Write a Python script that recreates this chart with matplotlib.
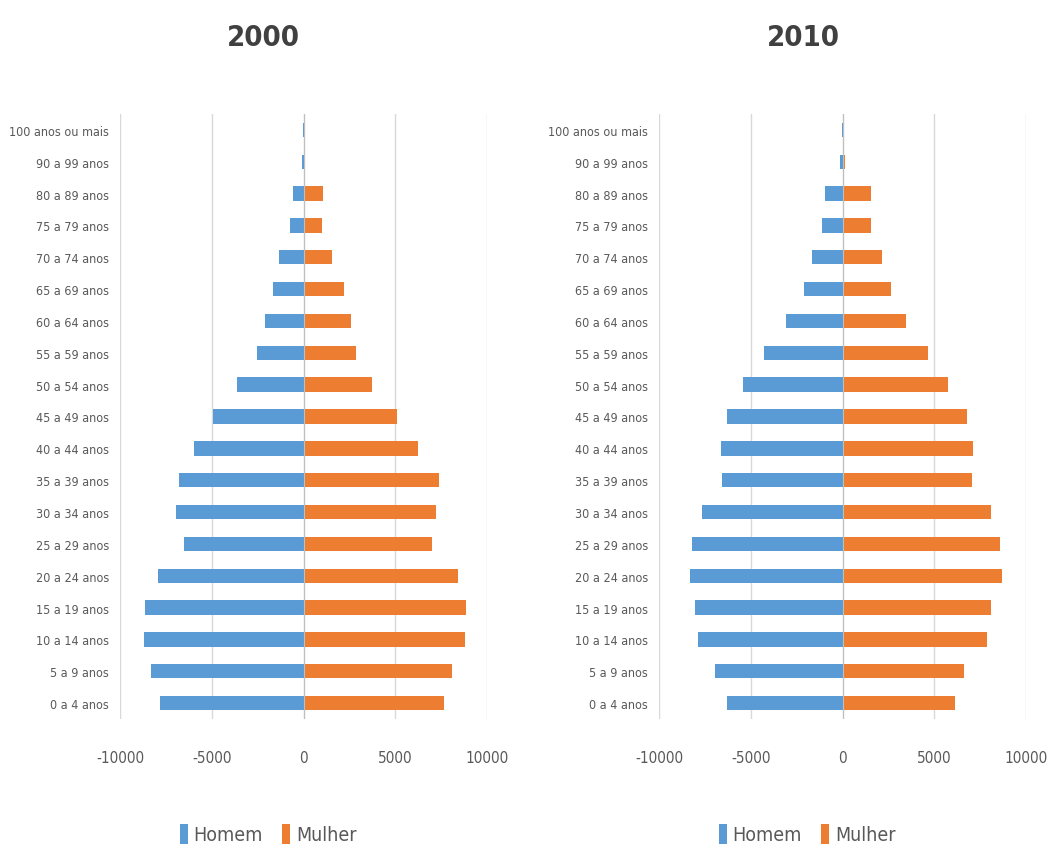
import matplotlib
matplotlib.use("Agg")
import matplotlib.pyplot as plt
from matplotlib.patches import Patch
import numpy as np

plt.rcParams['font.family'] = ['DejaVu Sans Condensed', 'Liberation Sans Narrow', 'DejaVu Sans']
plt.rcParams['font.stretch'] = 'condensed'

categories = ["0 a 4 anos", "5 a 9 anos", "10 a 14 anos", "15 a 19 anos", "20 a 24 anos",
              "25 a 29 anos", "30 a 34 anos", "35 a 39 anos", "40 a 44 anos", "45 a 49 anos",
              "50 a 54 anos", "55 a 59 anos", "60 a 64 anos", "65 a 69 anos", "70 a 74 anos",
              "75 a 79 anos", "80 a 89 anos", "90 a 99 anos", "100 anos ou mais"]

homem_2000 = [7820, 8290, 8690, 8620, 7930, 6510, 6945, 6760, 5960, 4940,
              3600, 2510, 2125, 1670, 1340, 730, 545, 60, 15]
mulher_2000 = [7640, 8075, 8805, 8875, 8440, 7020, 7200, 7385, 6215, 5090,
               3745, 2875, 2600, 2180, 1565, 1020, 1050, 90, 25]

homem_2010 = [6290, 6945, 7895, 8035, 8330, 8220, 7675, 6545, 6620, 6290,
              5420, 4255, 3055, 2110, 1640, 1130, 980, 120, 20]
mulher_2010 = [6110, 6620, 7855, 8110, 8690, 8580, 8110, 7050, 7090, 6800,
               5745, 4655, 3455, 2620, 2145, 1540, 1565, 160, 40]

years = ["2000", "2010"]
xticks = [-10000, -5000, 0, 5000, 10000]
xticklabels = ["-10000", "-5000", "0", "5000", "10000"]

BLUE = "#5B9BD5"
ORANGE = "#ED7D31"
TXT = "#595959"
GRID = "#D9D9D9"

fig = plt.figure(figsize=(10.48, 8.54), dpi=100)

W, H = 1048, 854
ax_specs = [(120, 487), (659, 1026)]
top_px, bot_px = 115, 720
title_x = [263, 803]
legend_x = [268, 807]

data = [(homem_2000, mulher_2000), (homem_2010, mulher_2010)]

for i, ((x0, x1), (hom, mul)) in enumerate(zip(ax_specs, data)):
    ax = fig.add_axes([x0 / W, 1 - bot_px / H, (x1 - x0) / W, (bot_px - top_px) / H])
    y = np.arange(len(categories))
    ax.barh(y, -np.array(hom), height=0.45, color=BLUE, zorder=3)
    ax.barh(y, np.array(mul), height=0.45, color=ORANGE, zorder=3)
    ax.set_xlim(-10000, 10000)
    ax.set_ylim(-0.5, len(categories) - 0.5)
    ax.set_yticks(y)
    ax.set_yticklabels(categories, fontsize=9, color=TXT)
    ax.set_xticks(xticks)
    ax.set_xticklabels(xticklabels, fontsize=11, color=TXT)
    ax.tick_params(axis='both', length=0)
    ax.tick_params(axis='y', pad=8)
    ax.tick_params(axis='x', pad=22)
    ax.grid(axis='x', color=GRID, linewidth=1, zorder=0)
    ax.axvline(0, color="#BFBFBF", linewidth=0.8, zorder=4)
    for s in ax.spines.values():
        s.set_visible(False)

    fig.text(title_x[i] / W, 1 - 38 / H, years[i], ha='center', va='center',
             fontsize=21, fontweight='bold', color="#404040")

    handles = [Patch(facecolor=BLUE, label="Homem"), Patch(facecolor=ORANGE, label="Mulher")]
    fig.legend(handles=handles, loc='center', bbox_to_anchor=(legend_x[i] / W, 1 - 835 / H),
               ncol=2, frameon=False, fontsize=14, labelcolor=TXT,
               handlelength=0.4, handleheight=1.2, handletextpad=0.3, columnspacing=1.0)

fig.savefig("out.png", dpi=100)
